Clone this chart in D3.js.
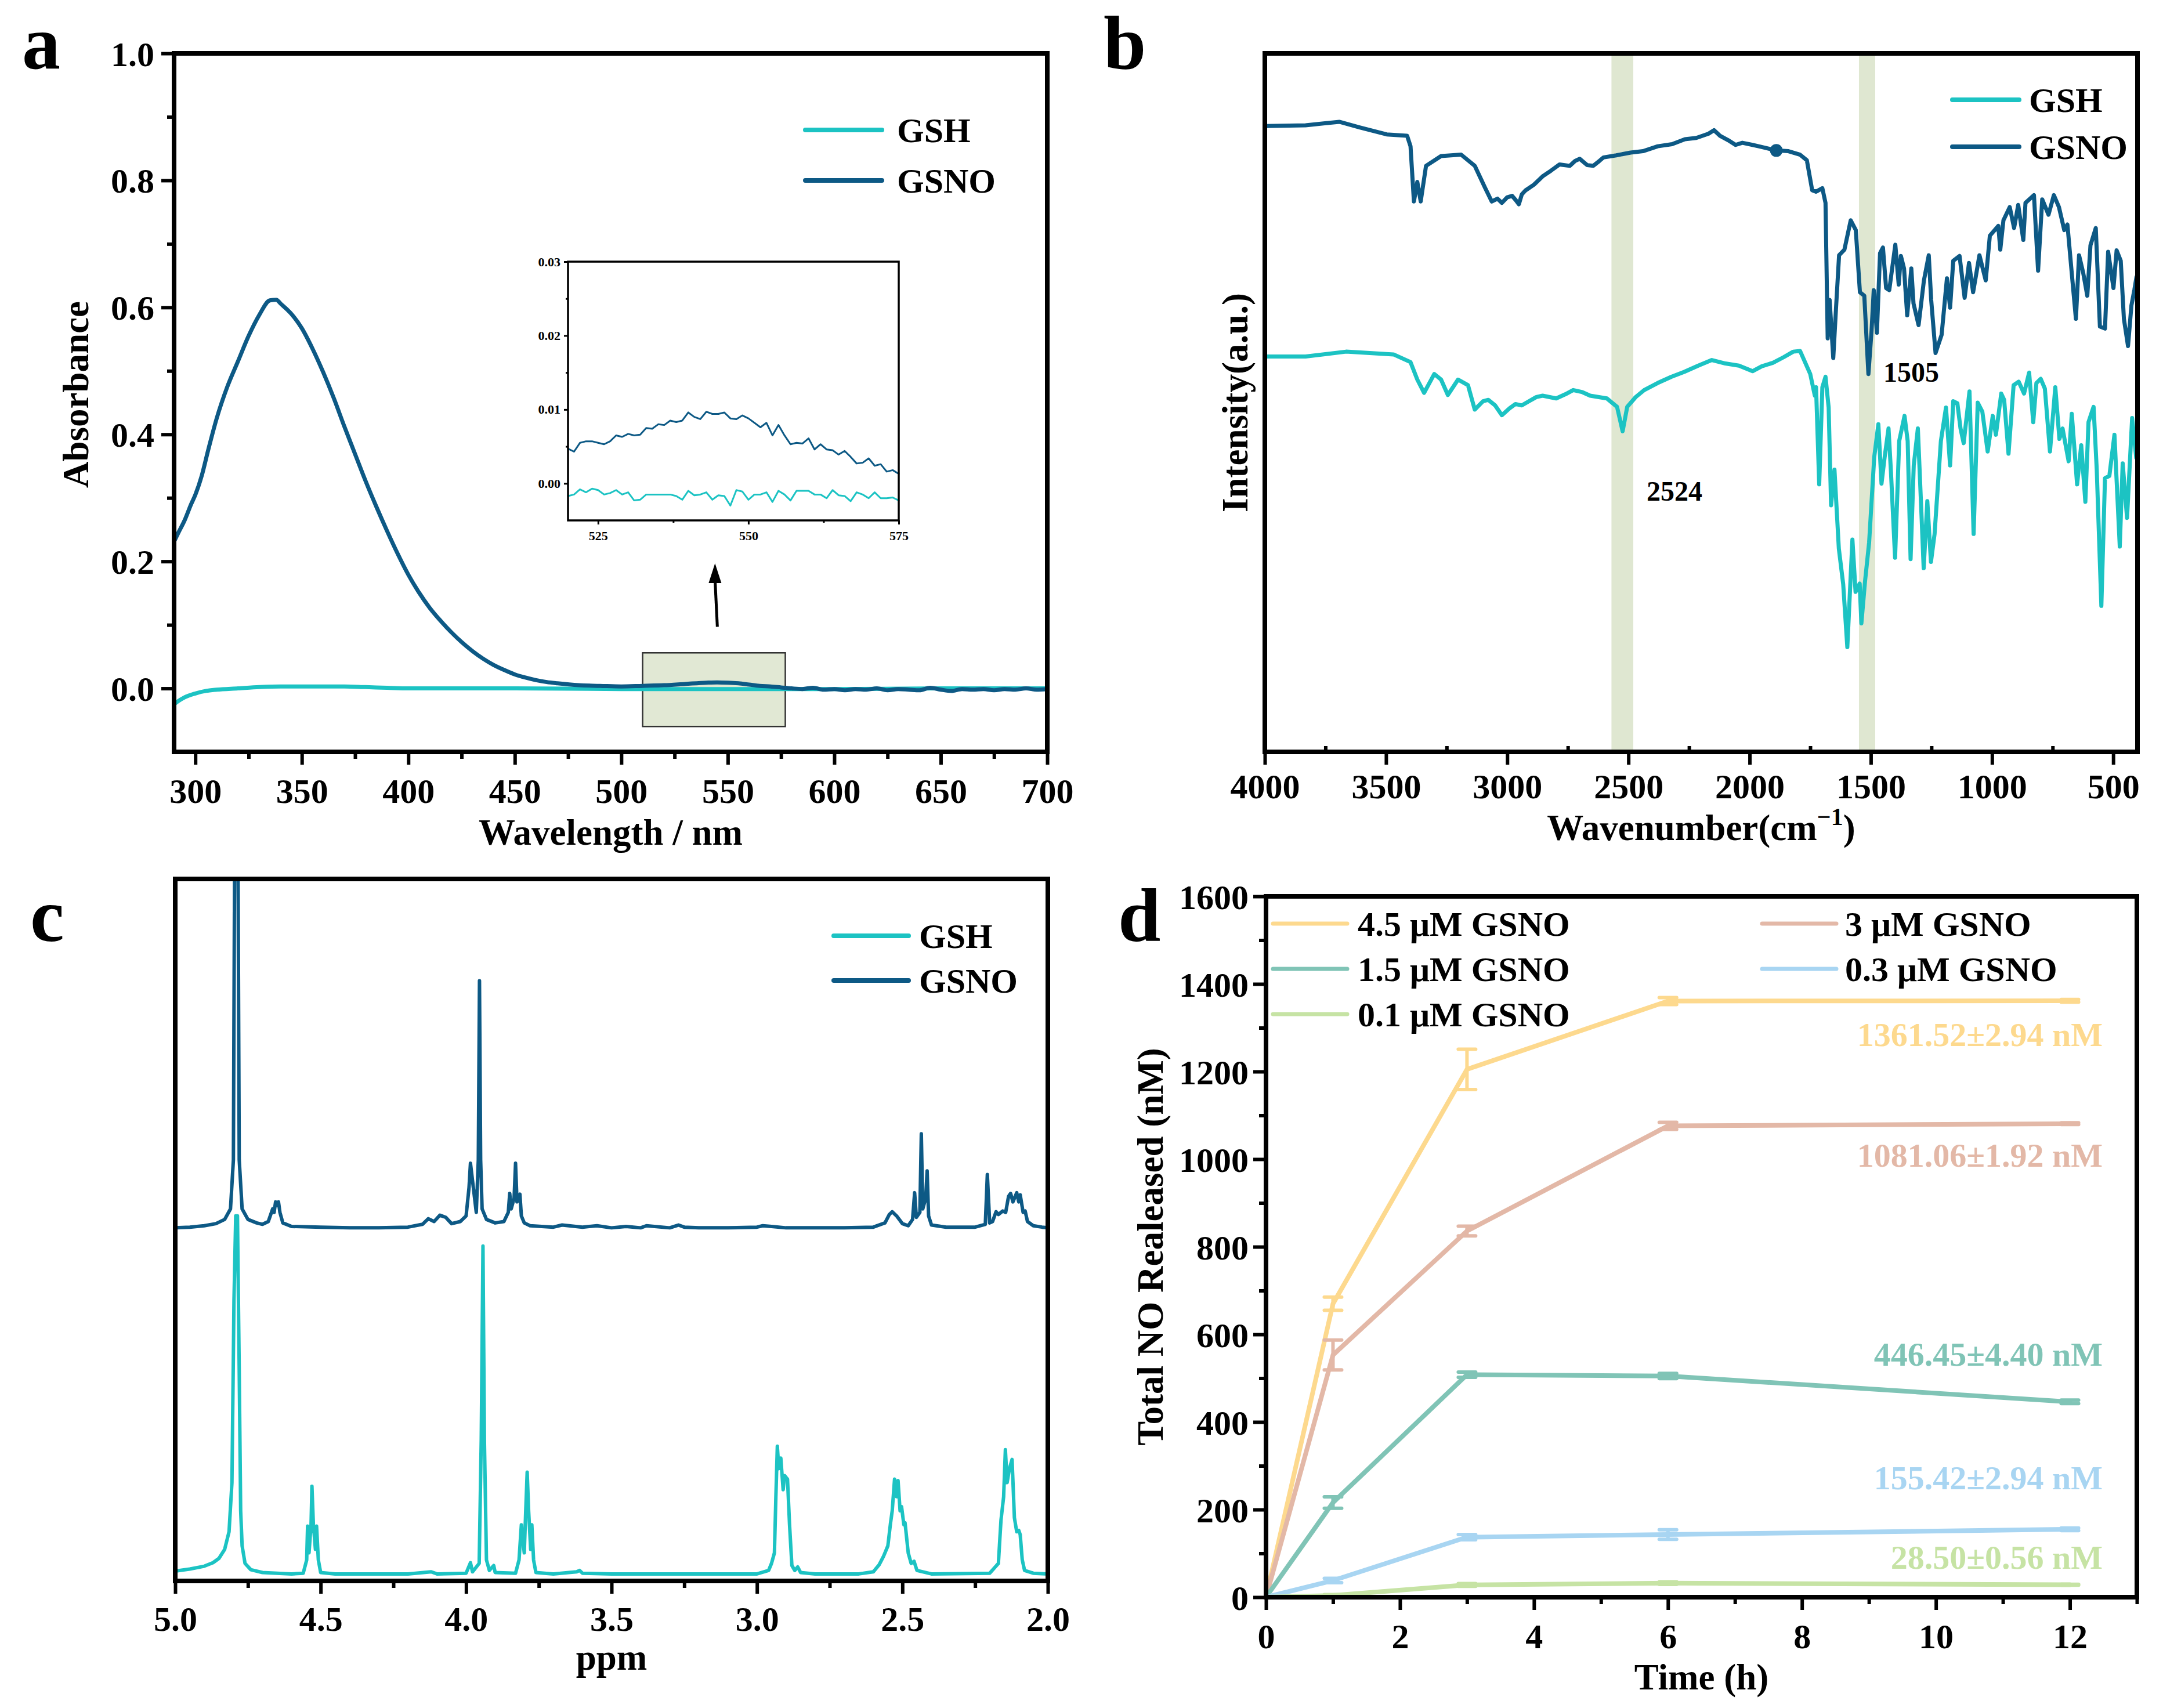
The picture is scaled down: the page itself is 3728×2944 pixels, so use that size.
<!DOCTYPE html>
<html>
<head>
<meta charset="utf-8">
<script src="https://cdn.jsdelivr.net/npm/d3@7"></script>
<style>
body { margin: 0; background: #fff; }
</style>
</head>
<body>
<svg id="fig" width="3728" height="2944"></svg>
<script>
// ---- data ----
var seriesNames = ["GSH", "GSNO"];
var cGSH = "#1cc3c3", cGSNO = "#0d5985";

// a: UV-vis absorbance [wavelength nm, absorbance]
var uvGSNO = [[290,.231],[292,.245],[295,.265],[298,.29],[300,.305],[303,.335],[306,.375],[310,.425],[315,.475],[320,.515],[325,.555],[330,.588],[335,.611],[338,.612],[340,.606],[345,.59],[350,.567],[355,.535],[360,.498],[365,.457],[370,.412],[375,.369],[380,.326],[385,.286],[390,.248],[395,.212],[400,.179],[405,.151],[410,.127],[415,.107],[420,.089],[425,.073],[430,.059],[435,.047],[440,.037],[445,.029],[450,.022],[455,.017],[460,.013],[465,.010],[470,.008],[480,.005],[490,.004],[500,.003],[510,.004],[520,.005],[530,.007],[540,.009],[545,.0095],[550,.009],[555,.008],[560,.006],[565,.004],[570,.003],[575,.0015],[580,0],[585,-.001],[590,.001],[595,-.002],[600,-.001],[605,-.003],[610,-.001],[615,-.002],[620,0],[625,-.003],[630,-.001],[635,-.002],[640,-.003],[645,.001],[650,-.002],[655,-.004],[660,-.001],[665,-.002],[670,-.001],[675,-.003],[680,-.001],[685,-.002],[690,0],[695,-.002],[700,-.001]];
var uvGSH = [[290,-.025],[292,-.02],[295,-.014],[300,-.008],[305,-.004],[310,-.002],[320,0],[330,.002],[340,.003],[350,.003],[360,.003],[370,.003],[380,.002],[390,.001],[400,0],[450,0],[500,-.001],[550,-.001],[600,-.001],[650,0],[700,0]];
// a inset (520-575 nm)
var insetGSNO = [[520,.0047],[521,.0043],[522,.0055],[523,.0057],[524,.0057],[525,.0055],[526,.0053],[527,.0057],[528,.0065],[529,.0063],[530,.0067],[531,.0065],[532,.0066],[533,.0075],[534,.0074],[535,.008],[536,.0079],[537,.0085],[538,.0083],[539,.0085],[540,.0096],[541,.009],[542,.0087],[543,.0097],[544,.0094],[545,.0094],[546,.0096],[547,.0088],[548,.0087],[549,.0092],[550,.0088],[551,.0082],[552,.0076],[553,.0082],[554,.0065],[555,.0079],[556,.0065],[557,.0053],[558,.0055],[559,.0054],[560,.0061],[561,.0046],[562,.0053],[563,.0046],[564,.0045],[565,.0039],[566,.0044],[567,.0036],[568,.0027],[569,.0028],[570,.0034],[571,.0024],[572,.0026],[573,.0016],[574,.0018],[575,.0013]];
var insetGSH = [[520,-.0017],[521,-.0015],[522,-.0008],[523,-.0012],[524,-.0007],[525,-.0009],[526,-.0015],[527,-.0013],[528,-.0009],[529,-.0015],[530,-.0012],[531,-.0023],[532,-.0022],[533,-.0015],[534,-.0015],[535,-.0015],[536,-.0015],[537,-.0015],[538,-.0017],[539,-.0022],[540,-.001],[541,-.0016],[542,-.0015],[543,-.0012],[544,-.0022],[545,-.0016],[546,-.0017],[547,-.003],[548,-.0009],[549,-.0011],[550,-.0022],[551,-.0015],[552,-.0015],[553,-.0012],[554,-.0025],[555,-.001],[556,-.0015],[557,-.0023],[558,-.001],[559,-.001],[560,-.001],[561,-.0015],[562,-.0015],[563,-.002],[564,-.0009],[565,-.0016],[566,-.0017],[567,-.0024],[568,-.0012],[569,-.0015],[570,-.002],[571,-.0012],[572,-.002],[573,-.002],[574,-.0019],[575,-.0023]];
var zoomBox = [510, 577, -0.06, 0.056];
var arrowA = [544, 0.097, 0.197];

// b: FTIR [wavenumber, intensity a.u.]
var irGSNO = [[4000,89.6],[3832,89.7],[3693,90.2],[3609,89.4],[3497,88.4],[3413,88.2],[3399,86.7],[3385,78.8],[3371,81.6],[3357,78.8],[3335,83.9],[3273,85.3],[3190,85.5],[3134,83.9],[3092,80.8],[3064,78.8],[3040,79.2],[3022,78.6],[3000,79.4],[2980,79.6],[2965,79.0],[2952,78.4],[2940,79.8],[2924,80.4],[2890,81.2],[2854,82.4],[2820,83.2],[2784,84.1],[2742,83.9],[2720,84.6],[2701,84.9],[2670,84.0],[2645,83.9],[2620,84.6],[2603,85.1],[2550,85.4],[2491,85.8],[2440,86.0],[2379,86.7],[2320,87.0],[2267,87.7],[2220,87.9],[2170,88.5],[2147,89.0],[2122,88.2],[2090,87.6],[2058,86.9],[2030,87.2],[1988,86.9],[1950,86.6],[1890,86.1],[1840,86.0],[1792,85.5],[1764,84.7],[1742,80.4],
  [1726,80.2],[1700,80.7],[1687,78.6],[1678,59.2],[1670,64.7],[1655,56.4],[1644,63.3],[1631,71.1],[1609,71.9],[1583,76.1],[1562,74.7],[1545,65.8],[1527,65.3],[1510,54.1],[1497,60.3],[1488,66.1],[1475,60.0],[1462,71.4],[1450,72.2],[1437,66.4],[1424,66.1],[1399,72.6],[1385,66.9],[1376,71.0],[1363,69.2],[1350,62.5],[1333,69.2],[1324,64.2],[1303,61.1],[1281,67.5],[1261,71.1],[1251,64.7],[1233,57.1],[1208,59.7],[1186,67.8],[1173,63.6],[1160,70.3],[1134,71.0],[1113,65.0],[1095,70.0],[1078,65.8],[1052,71.1],[1026,67.5],[1009,73.9],[974,75.3],[966,71.9],[953,76.1],[927,78.0],[909,75.0],[892,78.3],[871,73.3],[862,78.6],[827,79.7],[810,68.9],[793,79.1],[767,76.9],[745,79.7],[724,78.0],[702,74.7],[689,75.5],[672,68.9],[654,62.0],[641,71.1],[624,68.6],[607,65.3],[594,72.5],[572,75.0],[555,60.9],[534,60.6],[521,71.6],[499,66.4],[486,71.8],[469,70.3],[456,62.0],[439,58.1],[425,63.9],[413,66.1],[404,68.0],[400,62.0]];
var irGSH = [[4000,56.6],[3832,56.6],[3665,57.3],[3469,56.9],[3399,55.8],[3371,53.3],[3343,51.4],[3301,54.1],[3273,53.3],[3245,51.1],[3203,53.3],[3162,52.5],[3134,49.0],[3100,50.2],[3078,50.4],[3050,49.6],[3022,48.2],[2990,49.2],[2966,49.8],[2940,49.6],[2910,50.2],[2880,50.8],[2854,51.0],[2798,50.6],[2760,51.2],[2728,51.8],[2690,51.5],[2658,51.0],[2589,50.6],[2547,49.4],[2524,45.9],[2505,49.4],[2470,50.8],[2435,51.8],[2380,52.8],[2323,53.7],[2270,54.4],[2212,55.3],[2156,56.1],[2100,55.6],[2044,55.3],[1988,54.5],[1950,55.2],[1904,55.7],[1860,56.5],[1820,57.3],[1792,57.4],[1750,54.1],[1731,51.0],
  [1726,52.2],[1713,38.3],[1700,52.2],[1687,53.7],[1674,49.3],[1664,35.3],[1650,40.4],[1632,29.1],[1614,24.0],[1597,15.0],[1576,30.4],[1563,22.9],[1546,24.1],[1539,18.4],[1524,24.4],[1507,30.0],[1486,42.2],[1469,46.9],[1456,38.4],[1443,42.2],[1427,46.3],[1417,40.1],[1400,27.8],[1383,44.5],[1361,48.1],[1348,44.5],[1336,27.6],[1323,41.0],[1306,46.3],[1293,35.6],[1282,26.3],[1267,35.9],[1252,27.2],[1237,31.2],[1211,44.5],[1190,49.3],[1173,41.0],[1160,50.2],[1143,49.9],[1130,46.3],[1117,44.2],[1093,51.6],[1076,31.2],[1059,50.0],[1040,48.7],[1018,43.0],[997,48.1],[984,45.4],[962,51.3],[950,50.4],[932,42.7],[911,52.5],[890,53.0],[868,51.3],[847,54.3],[830,47.2],[817,52.8],[799,53.4],[782,52.0],[761,43.0],[739,52.2],[722,44.8],[709,46.3],[684,41.6],[671,48.4],[649,38.3],[632,43.9],[615,35.8],[602,47.2],[581,49.4],[568,40.4],[549,20.9],[534,39.2],[516,39.5],[495,45.4],[473,29.4],[461,41.3],[443,33.5],[422,47.8],[405,42.1]];
var irBands = [[2570, 2480], [1549, 1482]];
var irNotes = [["2524", 2838, 36], ["1505", 3246, 53]];
var irDot = [1890, 86.1];

// c: 1H NMR [ppm, intensity a.u.]
var nmrGSNO = [[5.00,50.3],[4.95,50.4],[4.90,50.6],[4.86,50.9],[4.83,51.5],[4.81,53],[4.80,60],[4.795,112],[4.785,112],[4.78,60],[4.77,53],[4.75,51.5],[4.72,51],[4.70,50.8],[4.68,51.2],[4.665,53],[4.66,52.5],[4.655,54],[4.65,53.5],[4.645,54],[4.64,52.5],[4.63,51],[4.60,50.5],[4.50,50.4],[4.40,50.3],[4.30,50.3],[4.20,50.4],[4.15,50.8],[4.13,51.6],[4.11,51.2],[4.09,52.1],[4.07,51.8],[4.05,50.9],[4.02,51.2],[4.00,52.0],[3.99,56],[3.985,59.5],[3.975,56],[3.965,52.5],[3.958,60],[3.954,85.5],[3.95,60],[3.945,53],[3.93,51.5],[3.90,51],[3.87,51.2],[3.855,52.5],[3.85,55.2],[3.845,53],[3.835,54.5],[3.83,59.5],[3.825,54],[3.815,55.1],[3.81,52],[3.80,51],[3.78,50.6],[3.70,50.4],[3.67,50.7],[3.60,50.4],[3.55,50.6],[3.50,50.3],[3.45,50.5],[3.40,50.3],[3.38,50.6],[3.30,50.3],[3.27,50.7],[3.25,50.4],[3.20,50.3],[3.10,50.3],[3.00,50.4],[2.98,50.6],[2.95,50.5],[2.90,50.3],[2.80,50.3],[2.70,50.3],[2.60,50.4],[2.56,51.0],[2.545,52.2],[2.535,52.6],[2.52,52],[2.50,50.9],[2.48,50.6],[2.465,51.5],[2.458,55.3],[2.452,51.8],[2.44,52.5],[2.435,63.7],[2.43,53],[2.42,54.5],[2.415,58.4],[2.41,52],[2.40,50.7],[2.35,50.4],[2.25,50.4],[2.215,50.8],[2.208,57.9],[2.20,51],[2.19,51.2],[2.178,52.6],[2.17,52.2],[2.155,52.7],[2.145,52.5],[2.135,54.8],[2.128,55.2],[2.12,54],[2.107,55.3],[2.10,54],[2.095,55.0],[2.085,52.5],[2.078,52.7],[2.07,51.2],[2.05,50.6],[2.02,50.4],[2.00,50.3]];
var nmrGSH = [[5.00,1.4],[4.95,1.7],[4.90,2.1],[4.87,2.6],[4.85,3.2],[4.83,4.5],[4.815,7],[4.805,14],[4.798,40],[4.792,52],[4.786,52],[4.78,30],[4.775,10],[4.77,5],[4.76,2.5],[4.74,1.6],[4.70,1.2],[4.60,1.0],[4.56,1.1],[4.548,3],[4.545,7.8],[4.54,4],[4.533,8],[4.53,13.5],[4.525,8],[4.518,4.5],[4.514,7.8],[4.508,3],[4.50,1.2],[4.45,1.0],[4.20,1.0],[4.12,1.3],[4.10,1.0],[4.00,1.1],[3.985,2.6],[3.978,1.3],[3.955,2.5],[3.948,20],[3.942,47.7],[3.937,20],[3.93,3],[3.92,1.5],[3.905,2.2],[3.90,1.2],[3.83,1.1],[3.818,3],[3.81,8.0],[3.80,4],[3.795,10],[3.79,15.5],[3.785,10],[3.778,4.5],[3.774,8.0],[3.768,3],[3.76,1.2],[3.70,1.0],[3.62,1.3],[3.61,1.5],[3.60,1.1],[3.50,1.0],[3.30,1.0],[3.00,1.0],[2.96,1.5],[2.95,2.5],[2.94,4],[2.935,12],[2.93,19.2],[2.925,16],[2.918,17.5],[2.91,13],[2.905,15],[2.895,14.5],[2.888,8],[2.88,2.2],[2.87,1.5],[2.86,2.0],[2.85,1.2],[2.80,1.0],[2.65,1.0],[2.60,1.3],[2.58,2.3],[2.565,3.5],[2.55,5],[2.541,8.2],[2.535,10],[2.527,14.5],[2.52,12],[2.515,14.3],[2.508,10],[2.503,10.6],[2.495,8],[2.491,8.3],[2.48,4],[2.47,2.5],[2.46,2.8],[2.45,1.5],[2.40,1.0],[2.20,1.1],[2.17,2.5],[2.165,6],[2.161,8.7],[2.152,12],[2.146,18.7],[2.14,14],[2.132,16],[2.123,17.3],[2.115,9],[2.107,7],[2.10,7.2],[2.095,6.6],[2.088,3],[2.08,1.5],[2.05,1.1],[2.00,1.0]];

// d: NO release
var times = [0, 1, 3, 6, 12];
var doseLabels = ["4.5 μM GSNO", "3 μM GSNO", "1.5 μM GSNO", "0.3 μM GSNO", "0.1 μM GSNO"];
var doseColors = ["#fdd98e", "#e3b8a7", "#80c4b6", "#a8d5f2", "#c6e3a4"];
var noMean = [
  [0, 670, 1205, 1361, 1361.5],
  [0, 553, 836, 1076, 1081],
  [0, 216, 508, 505, 446],
  [0, 38, 137, 143, 155],
  [0, 4, 28, 32, 28.5]
];
var noErr = [
  [0, 15, 46, 8, 3],
  [0, 34, 11, 8, 2],
  [0, 13, 6, 6, 4],
  [0, 5, 6, 11, 3],
  [0, 2, 3, 3, 1]
];
var endLabels = ["1361.52±2.94 nM", "1081.06±1.92 nM", "446.45±4.40 nM", "155.42±2.94 nM", "28.50±0.56 nM"];
var endLabelY = [1803, 2011, 2354, 2567, 2704];

// ---- drawing ----
var FONT = "'Liberation Serif', 'Times New Roman', serif";
var svg = d3.select("#fig");
svg.append("rect").attr("width", 3728).attr("height", 2944).attr("fill", "#fff");
svg.style("font-family", FONT).style("font-weight", "bold");

function range(a, b, s) { return d3.range(a, b + s / 2, s); }

function bottomAxis(g, x, y0, major, minor, fmt, off, size, minorLen) {
  var ax = g.append("g").attr("transform", "translate(0," + y0 + ")")
    .call(d3.axisBottom(x).tickValues(major).tickSize(22).tickSizeOuter(0).tickFormat(fmt));
  ax.select(".domain").remove();
  ax.attr("font-family", FONT).attr("font-size", size).attr("font-weight", "bold");
  ax.selectAll("line").attr("stroke", "#000").attr("stroke-width", 6);
  ax.selectAll("text").attr("y", off).attr("dy", 0).attr("fill", "#000");
  if (minor) {
    var m = g.append("g").attr("transform", "translate(0," + y0 + ")")
      .call(d3.axisBottom(x).tickValues(minor).tickSize(minorLen).tickSizeOuter(0).tickFormat(""));
    m.select(".domain").remove();
    m.selectAll("line").attr("stroke", "#000").attr("stroke-width", 6);
  }
}

function leftAxis(g, y, x0, major, minor, fmt, off, size) {
  var ax = g.append("g").attr("transform", "translate(" + x0 + ",0)")
    .call(d3.axisLeft(y).tickValues(major).tickSize(22).tickSizeOuter(0).tickFormat(fmt));
  ax.select(".domain").remove();
  ax.attr("font-family", FONT).attr("font-size", size).attr("font-weight", "bold");
  ax.selectAll("line").attr("stroke", "#000").attr("stroke-width", 6);
  ax.selectAll("text").attr("x", -off).attr("dy", "0.35em").attr("fill", "#000");
  var m = g.append("g").attr("transform", "translate(" + x0 + ",0)")
    .call(d3.axisLeft(y).tickValues(minor).tickSize(12).tickSizeOuter(0).tickFormat(""));
  m.select(".domain").remove();
  m.selectAll("line").attr("stroke", "#000").attr("stroke-width", 6);
}

function frame(g, x, y, w) {
  g.append("rect").attr("x", x.range()[0]).attr("y", y.range()[1])
    .attr("width", x.range()[1] - x.range()[0]).attr("height", y.range()[0] - y.range()[1])
    .attr("fill", "none").attr("stroke", "#000").attr("stroke-width", w);
}

function clip(id, x, y) {
  svg.append("clipPath").attr("id", id).append("rect")
    .attr("x", x.range()[0]).attr("y", y.range()[1])
    .attr("width", x.range()[1] - x.range()[0]).attr("height", y.range()[0] - y.range()[1]);
}

function curve(g, data, x, y, color, w, clipId, smooth) {
  var line = d3.line().x(function (d) { return x(d[0]); }).y(function (d) { return y(d[1]); });
  if (smooth) line.curve(d3.curveMonotoneX);
  g.append("path").datum(data).attr("d", line).attr("fill", "none")
    .attr("stroke", color).attr("stroke-width", w)
    .attr("stroke-linejoin", "round").attr("stroke-linecap", "round")
    .attr("clip-path", clipId ? "url(#" + clipId + ")" : null);
}

function legend(g, items, x0, x1, tx, ys, size, w) {
  items.forEach(function (it, i) {
    g.append("line").attr("x1", x0).attr("x2", x1).attr("y1", ys[i]).attr("y2", ys[i])
      .attr("stroke", it[1]).attr("stroke-width", w).attr("stroke-linecap", "round");
    g.append("text").attr("x", tx).attr("y", ys[i]).attr("dy", "0.35em")
      .attr("font-size", size).text(it[0]);
  });
}

function panelLabel(t, x, y) {
  svg.append("text").attr("x", x).attr("y", y).attr("font-size", 132).text(t);
}

// ===== panel a =====
var gA = svg.append("g");
var xA = d3.scaleLinear().domain([290, 700]).range([300, 1805]);
var yA = d3.scaleLinear().domain([-0.1, 1.0]).range([1296, 92]);
clip("clipA", xA, yA);
gA.append("rect").attr("x", xA(zoomBox[0])).attr("y", yA(zoomBox[3]))
  .attr("width", xA(zoomBox[1]) - xA(zoomBox[0])).attr("height", yA(zoomBox[2]) - yA(zoomBox[3]))
  .attr("fill", "#e1e8d4").attr("stroke", "#333").attr("stroke-width", 2.5);
curve(gA, uvGSH, xA, yA, cGSH, 7, "clipA", true);
curve(gA, uvGSNO, xA, yA, cGSNO, 7, "clipA", true);
bottomAxis(gA, xA, 1296, range(300, 700, 50), range(325, 675, 50), d3.format("d"), 88, 60, 12);
leftAxis(gA, yA, 300, range(0, 1, 0.2), range(0.1, 0.9, 0.2), d3.format(".1f"), 34, 60);
frame(gA, xA, yA, 8);
gA.append("text").attr("x", (300 + 1805) / 2).attr("y", 1456).attr("text-anchor", "middle")
  .attr("font-size", 63).text("Wavelength / nm");
gA.append("text").attr("transform", "translate(152,680) rotate(-90)").attr("text-anchor", "middle")
  .attr("font-size", 63).text("Absorbance");
legend(gA, [[seriesNames[0], cGSH], [seriesNames[1], cGSNO]], 1388, 1520, 1546, [224, 311], 60, 8);
// arrow
gA.append("line").attr("x1", xA(arrowA[0]) + 4).attr("x2", xA(arrowA[0]))
  .attr("y1", yA(arrowA[1])).attr("y2", yA(arrowA[2]) + 28)
  .attr("stroke", "#000").attr("stroke-width", 5);
gA.append("path").attr("d", "M" + (xA(arrowA[0]) - 11) + "," + (yA(arrowA[2]) + 34) + " L" + xA(arrowA[0]) + "," + yA(arrowA[2]) + " L" + (xA(arrowA[0]) + 11) + "," + (yA(arrowA[2]) + 34) + "Z")
  .attr("fill", "#000");

// inset
var xI = d3.scaleLinear().domain([520, 575]).range([979, 1549]);
var yI = d3.scaleLinear().domain([-0.005, 0.03]).range([897, 451]);
gA.append("rect").attr("x", 979).attr("y", 451).attr("width", 570).attr("height", 446).attr("fill", "#fff");
curve(gA, insetGSH, xI, yI, cGSH, 3);
curve(gA, insetGSNO, xI, yI, cGSNO, 3);
(function () {
  var ax = gA.append("g").attr("transform", "translate(0,897)")
    .call(d3.axisBottom(xI).tickValues([525, 550, 575]).tickSize(7).tickSizeOuter(0).tickFormat(d3.format("d")));
  ax.select(".domain").remove();
  ax.attr("font-family", FONT).attr("font-size", 22).attr("font-weight", "bold");
  ax.selectAll("line").attr("stroke-width", 3);
  ax.selectAll("text").attr("y", 34).attr("dy", 0);
  var axm = gA.append("g").attr("transform", "translate(0,897)")
    .call(d3.axisBottom(xI).tickValues([537.5, 562.5]).tickSize(4).tickSizeOuter(0).tickFormat(""));
  axm.select(".domain").remove();
  axm.selectAll("line").attr("stroke-width", 3);
  var ay = gA.append("g").attr("transform", "translate(979,0)")
    .call(d3.axisLeft(yI).tickValues([0, 0.01, 0.02, 0.03]).tickSize(7).tickSizeOuter(0).tickFormat(d3.format(".2f")));
  ay.select(".domain").remove();
  ay.attr("font-family", FONT).attr("font-size", 22).attr("font-weight", "bold");
  ay.selectAll("line").attr("stroke-width", 3);
  ay.selectAll("text").attr("x", -13);
  var aym = gA.append("g").attr("transform", "translate(979,0)")
    .call(d3.axisLeft(yI).tickValues([0.005, 0.015, 0.025]).tickSize(4).tickSizeOuter(0).tickFormat(""));
  aym.select(".domain").remove();
  aym.selectAll("line").attr("stroke-width", 3);
})();
frame(gA, xI, yI, 3.5);

// ===== panel b =====
var gB = svg.append("g");
var xB = d3.scaleLinear().domain([4000, 400]).range([2180, 3684]);
var yB = d3.scaleLinear().domain([0, 100]).range([1296, 92]);
clip("clipB", xB, yB);
irBands.forEach(function (b) {
  gB.append("rect").attr("x", xB(b[0])).attr("y", 92).attr("width", xB(b[1]) - xB(b[0]))
    .attr("height", 1296 - 92).attr("fill", "#dfe7d1");
});
curve(gB, irGSNO, xB, yB, cGSNO, 7, "clipB");
curve(gB, irGSH, xB, yB, cGSH, 7, "clipB");
gB.append("circle").attr("cx", xB(irDot[0])).attr("cy", yB(irDot[1])).attr("r", 11).attr("fill", cGSNO);
bottomAxis(gB, xB, 1296, range(500, 4000, 500), range(750, 3750, 500), d3.format("d"), 80, 60, -10);
frame(gB, xB, yB, 8);
irNotes.forEach(function (n) {
  gB.append("text").attr("x", n[1]).attr("y", yB(n[2])).attr("font-size", 48).text(n[0]);
});
var wn = gB.append("text").attr("x", (2180 + 3684) / 2).attr("y", 1448).attr("text-anchor", "middle")
  .attr("font-size", 63);
wn.append("tspan").text("Wavenumber(cm");
wn.append("tspan").attr("dy", -26).attr("font-size", 42).text("−1");
wn.append("tspan").attr("dy", 26).text(")");
gB.append("text").attr("transform", "translate(2150,694) rotate(-90)").attr("text-anchor", "middle")
  .attr("font-size", 63).text("Intensity(a.u.)");
legend(gB, [[seriesNames[0], cGSH], [seriesNames[1], cGSNO]], 3365, 3480, 3497, [172, 253], 60, 8);

// ===== panel c =====
var gC = svg.append("g");
var xC = d3.scaleLinear().domain([5, 2]).range([302, 1806]);
var yC = d3.scaleLinear().domain([0, 100]).range([2725, 1515]);
clip("clipC", xC, yC);
curve(gC, nmrGSH, xC, yC, cGSH, 6, "clipC");
curve(gC, nmrGSNO, xC, yC, cGSNO, 6, "clipC");
bottomAxis(gC, xC, 2725, range(2, 5, 0.5), range(2.25, 4.75, 0.5), d3.format(".1f"), 86, 60, 12);
frame(gC, xC, yC, 8);
gC.append("text").attr("x", (302 + 1806) / 2).attr("y", 2878).attr("text-anchor", "middle")
  .attr("font-size", 63).text("ppm");
legend(gC, [[seriesNames[0], cGSH], [seriesNames[1], cGSNO]], 1437, 1566, 1584, [1613, 1690], 60, 8);

// ===== panel d =====
var gD = svg.append("g");
var xD = d3.scaleLinear().domain([0, 13]).range([2182, 3683]);
var yD = d3.scaleLinear().domain([0, 1600]).range([2753, 1545]);
noMean.forEach(function (s, i) {
  var pts = times.map(function (t, j) { return [t, s[j]]; });
  curve(gD, pts, xD, yD, doseColors[i], 8);
  times.forEach(function (t, j) {
    var e = noErr[i][j];
    if (!e) return;
    var cx = xD(t), top = yD(s[j] + e), bot = yD(s[j] - e);
    gD.append("line").attr("x1", cx).attr("x2", cx).attr("y1", top).attr("y2", bot)
      .attr("stroke", doseColors[i]).attr("stroke-width", 6);
    [top, bot].forEach(function (yy) {
      gD.append("line").attr("x1", cx - 15).attr("x2", cx + 15).attr("y1", yy).attr("y2", yy)
        .attr("stroke", doseColors[i]).attr("stroke-width", 6).attr("stroke-linecap", "round");
    });
  });
  gD.append("text").attr("x", 3624).attr("y", endLabelY[i]).attr("text-anchor", "end")
    .attr("font-size", 58).attr("fill", doseColors[i]).text(endLabels[i]);
});
bottomAxis(gD, xD, 2753, range(0, 12, 2), range(1, 13, 2), d3.format("d"), 88, 60, 12);
leftAxis(gD, yD, 2182, range(0, 1600, 200), range(100, 1500, 200), d3.format("d"), 30, 60);
frame(gD, xD, yD, 8);
legend(gD, [[doseLabels[0], doseColors[0]], [doseLabels[2], doseColors[2]], [doseLabels[4], doseColors[4]]],
  2194, 2322, 2340, [1592, 1670, 1748], 60, 7);
legend(gD, [[doseLabels[1], doseColors[1]], [doseLabels[3], doseColors[3]]],
  3037, 3165, 3180, [1592, 1670], 60, 7);
gD.append("text").attr("x", (2182 + 3683) / 2).attr("y", 2912).attr("text-anchor", "middle")
  .attr("font-size", 63).text("Time (h)");
gD.append("text").attr("transform", "translate(2004,2149) rotate(-90)").attr("text-anchor", "middle")
  .attr("font-size", 63).text("Total NO Realeased (nM)");

panelLabel("a", 38, 118);
panelLabel("b", 1902, 118);
panelLabel("c", 52, 1622);
panelLabel("d", 1927, 1622);
</script>
</body>
</html>
